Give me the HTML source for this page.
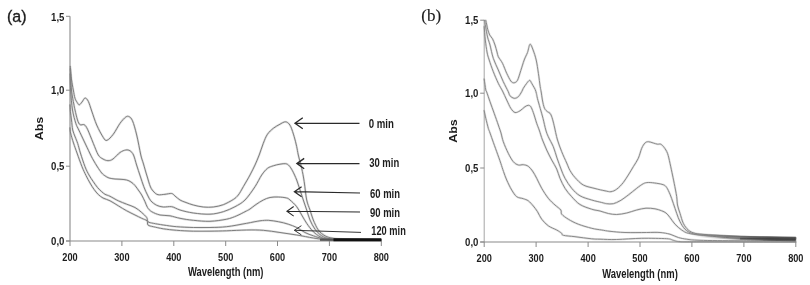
<!DOCTYPE html>
<html><head><meta charset="utf-8"><title>UV-Vis spectra</title>
<style>
html,body{margin:0;padding:0;background:#fff;}
body{width:810px;height:285px;overflow:hidden;}
svg{display:block;}
text{font-family:"Liberation Sans",sans-serif;fill:#1c1c1c;}
.b{font-weight:bold;}
.serif{font-family:"Liberation Serif",serif;}
.cv{fill:none;stroke:#7e7e7e;stroke-width:1;stroke-linejoin:round;stroke-linecap:round;}
.hl{fill:none;stroke:#7e7e7e;stroke-opacity:0.25;stroke-width:2.2;stroke-linejoin:round;stroke-linecap:round;}
.ax{fill:none;stroke:#8a8a8a;stroke-width:1;}
.ar{fill:none;stroke:#2a2a2a;}
</style></head><body>
<svg width="810" height="285" viewBox="0 0 810 285">
<rect width="810" height="285" fill="#fff"/>
<g>
<path class="ax" style="stroke-width:1.1" d="M70.0 16.3V241.0"/>
<path class="ax" style="stroke-width:1.2" d="M66.0 241.0H381.3"/>
<path class="ax" d="M66.0 16.3H70.0"/>
<text class="b" transform="translate(64.4 21.3) scale(0.830 1)" font-size="11.6" text-anchor="end">1,5</text>
<path class="ax" d="M66.0 90.2H70.0"/>
<text class="b" transform="translate(64.4 94.4) scale(0.830 1)" font-size="11.6" text-anchor="end">1,0</text>
<path class="ax" d="M66.0 166.2H70.0"/>
<text class="b" transform="translate(64.4 170.4) scale(0.830 1)" font-size="11.6" text-anchor="end">0,5</text>
<path class="ax" d="M66.0 241.0H70.0"/>
<text class="b" transform="translate(64.4 245.2) scale(0.830 1)" font-size="11.6" text-anchor="end">0,0</text>
<path class="ax" d="M70.0 241.0V246.0"/>
<text class="b" transform="translate(70.0 260.5) scale(0.820 1)" font-size="11.2" text-anchor="middle">200</text>
<path class="ax" d="M121.9 241.0V246.0"/>
<text class="b" transform="translate(121.9 260.5) scale(0.820 1)" font-size="11.2" text-anchor="middle">300</text>
<path class="ax" d="M173.8 241.0V246.0"/>
<text class="b" transform="translate(173.8 260.5) scale(0.820 1)" font-size="11.2" text-anchor="middle">400</text>
<path class="ax" d="M225.7 241.0V246.0"/>
<text class="b" transform="translate(225.7 260.5) scale(0.820 1)" font-size="11.2" text-anchor="middle">500</text>
<path class="ax" d="M277.5 241.0V246.0"/>
<text class="b" transform="translate(277.5 260.5) scale(0.820 1)" font-size="11.2" text-anchor="middle">600</text>
<path class="ax" d="M329.4 241.0V246.0"/>
<text class="b" transform="translate(329.4 260.5) scale(0.820 1)" font-size="11.2" text-anchor="middle">700</text>
<path class="ax" d="M381.3 241.0V246.0"/>
<text class="b" transform="translate(381.3 260.5) scale(0.820 1)" font-size="11.2" text-anchor="middle">800</text>
<text class="b" transform="translate(225.7 276.0) scale(0.726 1)" font-size="13" text-anchor="middle">Wavelength (nm)</text>
<text class="b" transform="translate(43.3 128.5) rotate(-90) scale(1.250 1)" font-size="10" text-anchor="middle">Abs</text>
<text class="" transform="translate(7.0 21.6) scale(0.970 1)" font-size="16.5" text-anchor="start" stroke="#1c1c1c" stroke-width="0.35">(a)</text>
<path class="hl" d="M70.3 66.5C70.4 67.7 70.7 71.2 70.9 73.5C71.1 75.8 71.2 77.2 71.6 80.0C72.0 82.8 72.7 87.0 73.3 90.0C73.9 93.0 74.3 96.2 75.0 98.3C75.7 100.4 76.5 101.4 77.2 102.5C77.9 103.6 78.5 104.9 79.3 104.8C80.1 104.7 81.0 103.1 82.0 102.0C83.0 100.9 84.0 98.1 85.0 98.0C86.0 97.9 87.2 99.1 88.3 101.3C89.4 103.5 90.3 107.0 91.7 111.0C93.1 115.0 94.8 120.6 96.7 125.0C98.6 129.4 101.6 134.9 103.3 137.5C105.0 140.1 105.3 140.9 107.0 140.3C108.7 139.8 111.1 137.0 113.3 134.2C115.5 131.4 117.9 126.2 120.0 123.3C122.1 120.4 124.3 118.1 125.8 117.0C127.3 115.9 128.1 116.1 129.2 116.7C130.3 117.3 131.2 117.8 132.5 120.8C133.8 123.8 135.3 129.3 136.7 135.0C138.1 140.7 139.7 150.2 140.8 155.0C141.9 159.8 142.5 160.5 143.5 164.0C144.5 167.5 145.8 172.2 147.0 176.0C148.2 179.8 149.3 184.3 150.5 187.0C151.7 189.7 152.8 190.7 154.0 192.0C155.2 193.3 156.2 194.3 158.0 194.7C159.8 195.1 162.7 194.5 165.0 194.3C167.3 194.1 170.0 193.2 171.7 193.5C173.4 193.8 173.6 194.9 175.0 196.0C176.4 197.1 178.2 198.9 180.0 200.0C181.8 201.1 183.8 201.7 186.0 202.5C188.2 203.3 190.4 204.2 193.3 205.0C196.2 205.8 200.0 206.7 203.3 207.0C206.6 207.3 210.0 207.4 213.3 207.0C216.6 206.6 220.0 205.9 223.3 204.7C226.6 203.4 230.8 201.1 233.3 199.5C235.8 197.9 236.6 197.1 238.3 195.0C240.0 192.9 241.4 190.0 243.3 186.7C245.2 183.4 248.1 178.6 250.0 175.0C251.9 171.4 253.5 168.3 255.0 165.0C256.5 161.7 257.8 158.6 259.2 155.0C260.6 151.4 261.9 146.8 263.3 143.3C264.7 139.8 265.8 136.7 267.5 134.2C269.2 131.7 271.2 130.0 273.3 128.3C275.4 126.6 278.2 125.2 280.0 124.2C281.8 123.2 282.9 122.3 284.2 122.0C285.4 121.7 286.4 121.7 287.5 122.5C288.6 123.3 289.7 124.3 290.8 126.7C291.9 129.1 293.2 133.4 294.2 136.7C295.2 140.0 296.0 143.6 296.7 146.7C297.4 149.8 297.5 151.4 298.3 155.0C299.1 158.6 300.7 163.9 301.7 168.3C302.7 172.8 303.4 176.4 304.2 181.7C305.0 187.0 305.7 195.3 306.7 200.0C307.7 204.7 308.9 206.7 310.0 210.0C311.1 213.3 311.9 216.7 313.3 220.0C314.7 223.3 316.4 227.4 318.3 230.0C320.2 232.6 322.5 234.4 325.0 235.8C327.5 237.2 330.0 237.8 333.3 238.3C336.6 238.8 337.1 238.8 345.0 239.0C352.9 239.2 375.0 239.4 381.0 239.5"/>
<path class="cv" d="M70.3 66.5C70.4 67.7 70.7 71.2 70.9 73.5C71.1 75.8 71.2 77.2 71.6 80.0C72.0 82.8 72.7 87.0 73.3 90.0C73.9 93.0 74.3 96.2 75.0 98.3C75.7 100.4 76.5 101.4 77.2 102.5C77.9 103.6 78.5 104.9 79.3 104.8C80.1 104.7 81.0 103.1 82.0 102.0C83.0 100.9 84.0 98.1 85.0 98.0C86.0 97.9 87.2 99.1 88.3 101.3C89.4 103.5 90.3 107.0 91.7 111.0C93.1 115.0 94.8 120.6 96.7 125.0C98.6 129.4 101.6 134.9 103.3 137.5C105.0 140.1 105.3 140.9 107.0 140.3C108.7 139.8 111.1 137.0 113.3 134.2C115.5 131.4 117.9 126.2 120.0 123.3C122.1 120.4 124.3 118.1 125.8 117.0C127.3 115.9 128.1 116.1 129.2 116.7C130.3 117.3 131.2 117.8 132.5 120.8C133.8 123.8 135.3 129.3 136.7 135.0C138.1 140.7 139.7 150.2 140.8 155.0C141.9 159.8 142.5 160.5 143.5 164.0C144.5 167.5 145.8 172.2 147.0 176.0C148.2 179.8 149.3 184.3 150.5 187.0C151.7 189.7 152.8 190.7 154.0 192.0C155.2 193.3 156.2 194.3 158.0 194.7C159.8 195.1 162.7 194.5 165.0 194.3C167.3 194.1 170.0 193.2 171.7 193.5C173.4 193.8 173.6 194.9 175.0 196.0C176.4 197.1 178.2 198.9 180.0 200.0C181.8 201.1 183.8 201.7 186.0 202.5C188.2 203.3 190.4 204.2 193.3 205.0C196.2 205.8 200.0 206.7 203.3 207.0C206.6 207.3 210.0 207.4 213.3 207.0C216.6 206.6 220.0 205.9 223.3 204.7C226.6 203.4 230.8 201.1 233.3 199.5C235.8 197.9 236.6 197.1 238.3 195.0C240.0 192.9 241.4 190.0 243.3 186.7C245.2 183.4 248.1 178.6 250.0 175.0C251.9 171.4 253.5 168.3 255.0 165.0C256.5 161.7 257.8 158.6 259.2 155.0C260.6 151.4 261.9 146.8 263.3 143.3C264.7 139.8 265.8 136.7 267.5 134.2C269.2 131.7 271.2 130.0 273.3 128.3C275.4 126.6 278.2 125.2 280.0 124.2C281.8 123.2 282.9 122.3 284.2 122.0C285.4 121.7 286.4 121.7 287.5 122.5C288.6 123.3 289.7 124.3 290.8 126.7C291.9 129.1 293.2 133.4 294.2 136.7C295.2 140.0 296.0 143.6 296.7 146.7C297.4 149.8 297.5 151.4 298.3 155.0C299.1 158.6 300.7 163.9 301.7 168.3C302.7 172.8 303.4 176.4 304.2 181.7C305.0 187.0 305.7 195.3 306.7 200.0C307.7 204.7 308.9 206.7 310.0 210.0C311.1 213.3 311.9 216.7 313.3 220.0C314.7 223.3 316.4 227.4 318.3 230.0C320.2 232.6 322.5 234.4 325.0 235.8C327.5 237.2 330.0 237.8 333.3 238.3C336.6 238.8 337.1 238.8 345.0 239.0C352.9 239.2 375.0 239.4 381.0 239.5"/>
<path class="hl" d="M70.3 69.0C70.4 71.2 70.7 78.2 70.9 82.0C71.1 85.8 71.2 88.3 71.7 92.0C72.2 95.7 73.2 101.0 73.8 104.0C74.3 107.0 74.4 107.3 75.0 110.0C75.6 112.7 76.7 117.5 77.5 120.0C78.3 122.5 78.9 123.9 80.0 124.7C81.1 125.5 83.0 124.0 84.2 124.7C85.5 125.5 86.0 126.1 87.5 129.2C89.0 132.3 91.5 139.0 93.3 143.3C95.1 147.6 96.7 152.4 98.3 155.0C99.9 157.6 101.4 158.1 103.0 159.0C104.6 159.9 106.3 160.7 108.0 160.7C109.7 160.7 111.0 160.4 113.0 159.0C115.0 157.6 117.9 154.0 120.0 152.5C122.1 151.0 124.1 150.3 125.8 150.0C127.5 149.7 128.7 150.0 130.0 150.8C131.3 151.6 132.4 152.6 133.5 155.0C134.6 157.4 135.5 161.5 136.6 165.0C137.7 168.5 139.0 172.4 140.2 176.0C141.4 179.6 142.6 183.5 143.8 186.7C145.0 189.9 146.3 192.7 147.5 195.0C148.7 197.3 149.3 199.1 150.8 200.8C152.3 202.5 154.6 204.3 156.7 205.3C158.8 206.3 160.8 206.8 163.3 207.0C165.8 207.2 168.9 206.2 171.7 206.7C174.5 207.2 176.4 208.9 180.0 210.0C183.6 211.1 188.3 212.3 193.3 213.0C198.3 213.7 205.0 214.4 210.0 214.2C215.0 214.0 219.1 212.9 223.3 211.7C227.5 210.4 231.4 208.6 235.0 206.7C238.6 204.8 241.7 203.3 245.0 200.0C248.3 196.7 252.2 190.9 255.0 186.7C257.8 182.5 259.6 178.1 261.7 175.0C263.8 171.9 265.6 169.8 267.5 168.3C269.4 166.8 271.2 166.5 273.3 165.8C275.4 165.1 277.9 164.5 280.0 164.2C282.1 163.8 284.3 163.4 285.8 163.7C287.3 164.0 288.1 164.6 289.2 165.8C290.3 167.0 291.2 168.4 292.5 170.8C293.8 173.2 295.4 176.8 296.7 180.0C297.9 183.2 298.9 186.7 300.0 190.0C301.1 193.3 302.2 196.7 303.3 200.0C304.4 203.3 305.6 206.7 306.7 210.0C307.8 213.3 308.6 216.8 310.0 220.0C311.4 223.2 313.1 226.6 315.0 229.2C316.9 231.8 319.2 234.2 321.7 235.8C324.2 237.4 326.1 238.1 330.0 238.7C333.9 239.3 336.5 239.1 345.0 239.3C353.5 239.5 375.0 239.6 381.0 239.7"/>
<path class="cv" d="M70.3 69.0C70.4 71.2 70.7 78.2 70.9 82.0C71.1 85.8 71.2 88.3 71.7 92.0C72.2 95.7 73.2 101.0 73.8 104.0C74.3 107.0 74.4 107.3 75.0 110.0C75.6 112.7 76.7 117.5 77.5 120.0C78.3 122.5 78.9 123.9 80.0 124.7C81.1 125.5 83.0 124.0 84.2 124.7C85.5 125.5 86.0 126.1 87.5 129.2C89.0 132.3 91.5 139.0 93.3 143.3C95.1 147.6 96.7 152.4 98.3 155.0C99.9 157.6 101.4 158.1 103.0 159.0C104.6 159.9 106.3 160.7 108.0 160.7C109.7 160.7 111.0 160.4 113.0 159.0C115.0 157.6 117.9 154.0 120.0 152.5C122.1 151.0 124.1 150.3 125.8 150.0C127.5 149.7 128.7 150.0 130.0 150.8C131.3 151.6 132.4 152.6 133.5 155.0C134.6 157.4 135.5 161.5 136.6 165.0C137.7 168.5 139.0 172.4 140.2 176.0C141.4 179.6 142.6 183.5 143.8 186.7C145.0 189.9 146.3 192.7 147.5 195.0C148.7 197.3 149.3 199.1 150.8 200.8C152.3 202.5 154.6 204.3 156.7 205.3C158.8 206.3 160.8 206.8 163.3 207.0C165.8 207.2 168.9 206.2 171.7 206.7C174.5 207.2 176.4 208.9 180.0 210.0C183.6 211.1 188.3 212.3 193.3 213.0C198.3 213.7 205.0 214.4 210.0 214.2C215.0 214.0 219.1 212.9 223.3 211.7C227.5 210.4 231.4 208.6 235.0 206.7C238.6 204.8 241.7 203.3 245.0 200.0C248.3 196.7 252.2 190.9 255.0 186.7C257.8 182.5 259.6 178.1 261.7 175.0C263.8 171.9 265.6 169.8 267.5 168.3C269.4 166.8 271.2 166.5 273.3 165.8C275.4 165.1 277.9 164.5 280.0 164.2C282.1 163.8 284.3 163.4 285.8 163.7C287.3 164.0 288.1 164.6 289.2 165.8C290.3 167.0 291.2 168.4 292.5 170.8C293.8 173.2 295.4 176.8 296.7 180.0C297.9 183.2 298.9 186.7 300.0 190.0C301.1 193.3 302.2 196.7 303.3 200.0C304.4 203.3 305.6 206.7 306.7 210.0C307.8 213.3 308.6 216.8 310.0 220.0C311.4 223.2 313.1 226.6 315.0 229.2C316.9 231.8 319.2 234.2 321.7 235.8C324.2 237.4 326.1 238.1 330.0 238.7C333.9 239.3 336.5 239.1 345.0 239.3C353.5 239.5 375.0 239.6 381.0 239.7"/>
<path class="hl" d="M70.2 74.0C70.3 76.7 70.2 84.0 70.6 90.0C71.0 96.0 71.6 104.5 72.5 110.0C73.4 115.5 74.8 120.0 75.8 123.3C76.8 126.6 77.4 127.0 78.8 130.0C80.2 132.9 82.2 137.2 84.0 141.0C85.8 144.8 88.2 149.8 89.7 153.0C91.2 156.2 92.0 157.7 93.3 160.0C94.6 162.3 96.1 164.8 97.5 167.0C98.9 169.2 100.5 171.5 101.7 173.0C103.0 174.5 103.8 175.0 105.0 175.8C106.2 176.6 107.3 177.5 109.0 178.0C110.7 178.5 113.0 178.8 115.0 179.0C117.0 179.2 119.0 179.1 121.0 179.3C123.0 179.5 125.0 179.6 126.7 180.0C128.4 180.4 129.6 181.1 131.0 182.0C132.4 182.9 133.7 184.0 135.0 185.5C136.3 187.0 137.9 189.4 139.0 191.0C140.1 192.6 140.7 193.2 141.7 195.0C142.7 196.8 144.0 199.6 145.0 201.7C146.0 203.8 146.4 205.8 147.5 207.5C148.6 209.2 149.6 210.4 151.7 211.7C153.8 212.9 156.9 214.3 160.0 215.0C163.1 215.7 166.7 215.2 170.0 215.8C173.3 216.4 176.1 217.6 180.0 218.3C183.9 219.1 188.3 219.8 193.3 220.3C198.3 220.8 204.4 221.5 210.0 221.3C215.6 221.1 222.2 220.1 226.7 219.2C231.1 218.3 233.6 217.1 236.7 215.8C239.8 214.6 242.8 212.8 245.0 211.7C247.2 210.6 248.2 210.2 250.0 209.0C251.8 207.8 253.8 206.0 256.0 204.5C258.2 203.0 261.0 201.2 263.3 200.0C265.6 198.8 267.5 198.0 270.0 197.5C272.5 197.0 275.5 196.9 278.3 197.0C281.1 197.1 284.8 197.5 286.7 198.0C288.6 198.5 288.3 198.6 290.0 200.0C291.7 201.4 294.8 204.2 296.7 206.7C298.6 209.2 300.0 212.2 301.7 215.0C303.4 217.8 304.8 220.5 306.7 223.3C308.6 226.1 311.1 229.5 313.3 231.7C315.5 233.9 317.8 235.4 320.0 236.7C322.2 237.9 323.4 238.7 326.7 239.2C330.0 239.7 330.9 239.6 340.0 239.7C349.1 239.8 374.2 239.9 381.0 240.0"/>
<path class="cv" d="M70.2 74.0C70.3 76.7 70.2 84.0 70.6 90.0C71.0 96.0 71.6 104.5 72.5 110.0C73.4 115.5 74.8 120.0 75.8 123.3C76.8 126.6 77.4 127.0 78.8 130.0C80.2 132.9 82.2 137.2 84.0 141.0C85.8 144.8 88.2 149.8 89.7 153.0C91.2 156.2 92.0 157.7 93.3 160.0C94.6 162.3 96.1 164.8 97.5 167.0C98.9 169.2 100.5 171.5 101.7 173.0C103.0 174.5 103.8 175.0 105.0 175.8C106.2 176.6 107.3 177.5 109.0 178.0C110.7 178.5 113.0 178.8 115.0 179.0C117.0 179.2 119.0 179.1 121.0 179.3C123.0 179.5 125.0 179.6 126.7 180.0C128.4 180.4 129.6 181.1 131.0 182.0C132.4 182.9 133.7 184.0 135.0 185.5C136.3 187.0 137.9 189.4 139.0 191.0C140.1 192.6 140.7 193.2 141.7 195.0C142.7 196.8 144.0 199.6 145.0 201.7C146.0 203.8 146.4 205.8 147.5 207.5C148.6 209.2 149.6 210.4 151.7 211.7C153.8 212.9 156.9 214.3 160.0 215.0C163.1 215.7 166.7 215.2 170.0 215.8C173.3 216.4 176.1 217.6 180.0 218.3C183.9 219.1 188.3 219.8 193.3 220.3C198.3 220.8 204.4 221.5 210.0 221.3C215.6 221.1 222.2 220.1 226.7 219.2C231.1 218.3 233.6 217.1 236.7 215.8C239.8 214.6 242.8 212.8 245.0 211.7C247.2 210.6 248.2 210.2 250.0 209.0C251.8 207.8 253.8 206.0 256.0 204.5C258.2 203.0 261.0 201.2 263.3 200.0C265.6 198.8 267.5 198.0 270.0 197.5C272.5 197.0 275.5 196.9 278.3 197.0C281.1 197.1 284.8 197.5 286.7 198.0C288.6 198.5 288.3 198.6 290.0 200.0C291.7 201.4 294.8 204.2 296.7 206.7C298.6 209.2 300.0 212.2 301.7 215.0C303.4 217.8 304.8 220.5 306.7 223.3C308.6 226.1 311.1 229.5 313.3 231.7C315.5 233.9 317.8 235.4 320.0 236.7C322.2 237.9 323.4 238.7 326.7 239.2C330.0 239.7 330.9 239.6 340.0 239.7C349.1 239.8 374.2 239.9 381.0 240.0"/>
<path class="hl" d="M70.0 105.0C70.1 106.1 70.2 108.9 70.4 111.4C70.7 113.9 71.1 116.9 71.5 120.0C71.9 123.1 72.1 127.2 72.7 130.0C73.3 132.8 74.4 134.8 75.2 137.0C76.0 139.2 76.8 140.8 77.7 143.5C78.6 146.2 79.2 149.1 80.4 153.0C81.6 156.9 83.6 163.0 85.0 166.7C86.4 170.4 87.6 172.5 89.0 175.0C90.4 177.5 91.9 179.6 93.3 181.7C94.7 183.8 96.1 185.8 97.5 187.5C98.9 189.2 100.5 190.6 101.7 191.7C103.0 192.8 103.6 193.5 105.0 194.3C106.4 195.1 107.8 195.2 110.0 196.3C112.2 197.4 115.5 199.5 118.3 200.8C121.1 202.1 123.9 203.1 126.7 204.2C129.5 205.3 132.5 206.1 135.0 207.5C137.5 208.9 139.8 210.8 141.7 212.5C143.6 214.2 145.6 216.0 146.7 217.5C147.8 219.0 146.9 220.7 148.0 221.7C149.1 222.7 150.8 222.8 153.3 223.3C155.9 223.9 159.4 224.4 163.3 225.0C167.2 225.6 171.7 226.3 176.7 226.7C181.7 227.1 187.8 227.4 193.3 227.5C198.9 227.6 204.4 227.6 210.0 227.5C215.6 227.4 220.6 227.4 226.7 226.7C232.8 226.0 241.1 224.3 246.7 223.3C252.2 222.3 256.4 221.3 260.0 220.8C263.6 220.3 265.2 220.2 268.3 220.3C271.4 220.5 275.0 221.0 278.3 221.7C281.6 222.3 285.2 223.2 288.3 224.2C291.4 225.2 293.9 226.1 296.7 227.5C299.5 228.9 302.2 231.1 305.0 232.5C307.8 233.9 310.2 234.8 313.3 235.8C316.4 236.8 318.9 238.0 323.3 238.7C327.8 239.3 330.4 239.5 340.0 239.7C349.6 239.9 374.2 239.9 381.0 240.0"/>
<path class="cv" d="M70.0 105.0C70.1 106.1 70.2 108.9 70.4 111.4C70.7 113.9 71.1 116.9 71.5 120.0C71.9 123.1 72.1 127.2 72.7 130.0C73.3 132.8 74.4 134.8 75.2 137.0C76.0 139.2 76.8 140.8 77.7 143.5C78.6 146.2 79.2 149.1 80.4 153.0C81.6 156.9 83.6 163.0 85.0 166.7C86.4 170.4 87.6 172.5 89.0 175.0C90.4 177.5 91.9 179.6 93.3 181.7C94.7 183.8 96.1 185.8 97.5 187.5C98.9 189.2 100.5 190.6 101.7 191.7C103.0 192.8 103.6 193.5 105.0 194.3C106.4 195.1 107.8 195.2 110.0 196.3C112.2 197.4 115.5 199.5 118.3 200.8C121.1 202.1 123.9 203.1 126.7 204.2C129.5 205.3 132.5 206.1 135.0 207.5C137.5 208.9 139.8 210.8 141.7 212.5C143.6 214.2 145.6 216.0 146.7 217.5C147.8 219.0 146.9 220.7 148.0 221.7C149.1 222.7 150.8 222.8 153.3 223.3C155.9 223.9 159.4 224.4 163.3 225.0C167.2 225.6 171.7 226.3 176.7 226.7C181.7 227.1 187.8 227.4 193.3 227.5C198.9 227.6 204.4 227.6 210.0 227.5C215.6 227.4 220.6 227.4 226.7 226.7C232.8 226.0 241.1 224.3 246.7 223.3C252.2 222.3 256.4 221.3 260.0 220.8C263.6 220.3 265.2 220.2 268.3 220.3C271.4 220.5 275.0 221.0 278.3 221.7C281.6 222.3 285.2 223.2 288.3 224.2C291.4 225.2 293.9 226.1 296.7 227.5C299.5 228.9 302.2 231.1 305.0 232.5C307.8 233.9 310.2 234.8 313.3 235.8C316.4 236.8 318.9 238.0 323.3 238.7C327.8 239.3 330.4 239.5 340.0 239.7C349.6 239.9 374.2 239.9 381.0 240.0"/>
<path class="hl" d="M70.0 128.0C70.1 128.8 70.0 130.5 70.6 133.0C71.2 135.5 72.4 139.7 73.5 143.0C74.6 146.3 75.6 149.1 77.0 153.0C78.4 156.9 80.5 162.9 82.0 166.7C83.5 170.4 84.7 172.8 86.0 175.5C87.3 178.2 88.7 180.7 90.0 183.0C91.3 185.3 92.6 187.4 94.0 189.3C95.4 191.2 96.8 193.1 98.3 194.5C99.8 195.9 101.0 196.9 103.0 198.0C105.0 199.1 107.5 199.5 110.0 200.8C112.5 202.1 115.5 204.1 118.3 205.8C121.1 207.5 123.9 209.3 126.7 210.8C129.5 212.3 132.5 213.8 135.0 215.0C137.5 216.2 139.7 217.3 141.7 218.3C143.7 219.3 145.9 219.7 147.0 220.8C148.1 221.9 146.9 224.0 148.0 225.0C149.1 226.0 150.8 226.1 153.3 226.7C155.9 227.3 159.4 228.2 163.3 228.8C167.2 229.4 171.7 229.9 176.7 230.3C181.7 230.7 187.8 231.0 193.3 231.2C198.9 231.3 204.4 231.3 210.0 231.2C215.6 231.1 220.6 231.0 226.7 230.8C232.8 230.6 240.6 230.1 246.7 230.0C252.8 229.9 257.8 229.9 263.3 230.3C268.9 230.7 274.4 231.7 280.0 232.5C285.6 233.3 291.1 234.1 296.7 235.0C302.2 235.9 308.9 237.3 313.3 238.0C317.7 238.7 318.9 239.0 323.3 239.3C327.8 239.6 330.4 239.8 340.0 240.0C349.6 240.2 374.2 240.2 381.0 240.3"/>
<path class="cv" d="M70.0 128.0C70.1 128.8 70.0 130.5 70.6 133.0C71.2 135.5 72.4 139.7 73.5 143.0C74.6 146.3 75.6 149.1 77.0 153.0C78.4 156.9 80.5 162.9 82.0 166.7C83.5 170.4 84.7 172.8 86.0 175.5C87.3 178.2 88.7 180.7 90.0 183.0C91.3 185.3 92.6 187.4 94.0 189.3C95.4 191.2 96.8 193.1 98.3 194.5C99.8 195.9 101.0 196.9 103.0 198.0C105.0 199.1 107.5 199.5 110.0 200.8C112.5 202.1 115.5 204.1 118.3 205.8C121.1 207.5 123.9 209.3 126.7 210.8C129.5 212.3 132.5 213.8 135.0 215.0C137.5 216.2 139.7 217.3 141.7 218.3C143.7 219.3 145.9 219.7 147.0 220.8C148.1 221.9 146.9 224.0 148.0 225.0C149.1 226.0 150.8 226.1 153.3 226.7C155.9 227.3 159.4 228.2 163.3 228.8C167.2 229.4 171.7 229.9 176.7 230.3C181.7 230.7 187.8 231.0 193.3 231.2C198.9 231.3 204.4 231.3 210.0 231.2C215.6 231.1 220.6 231.0 226.7 230.8C232.8 230.6 240.6 230.1 246.7 230.0C252.8 229.9 257.8 229.9 263.3 230.3C268.9 230.7 274.4 231.7 280.0 232.5C285.6 233.3 291.1 234.1 296.7 235.0C302.2 235.9 308.9 237.3 313.3 238.0C317.7 238.7 318.9 239.0 323.3 239.3C327.8 239.6 330.4 239.8 340.0 240.0C349.6 240.2 374.2 240.2 381.0 240.3"/>
<path class="ax" style="stroke:#9c9c9c;stroke-width:0.9" d="M484.2 20.2V242.0"/>
<path class="ax" style="stroke-width:1.2" d="M480.2 242.0H795.8"/>
<path class="ax" d="M480.2 20.2H484.2"/>
<text class="b" transform="translate(478.4 24.4) scale(0.830 1)" font-size="11.6" text-anchor="end">1,5</text>
<path class="ax" d="M480.2 93.2H484.2"/>
<text class="b" transform="translate(478.4 97.4) scale(0.830 1)" font-size="11.6" text-anchor="end">1,0</text>
<path class="ax" d="M480.2 168.0H484.2"/>
<text class="b" transform="translate(478.4 172.2) scale(0.830 1)" font-size="11.6" text-anchor="end">0,5</text>
<path class="ax" d="M480.2 242.0H484.2"/>
<text class="b" transform="translate(478.4 246.2) scale(0.830 1)" font-size="11.6" text-anchor="end">0,0</text>
<path class="ax" d="M484.2 242.0V247.0"/>
<text class="b" transform="translate(484.2 261.7) scale(0.820 1)" font-size="11.2" text-anchor="middle">200</text>
<path class="ax" d="M536.1 242.0V247.0"/>
<text class="b" transform="translate(536.1 261.7) scale(0.820 1)" font-size="11.2" text-anchor="middle">300</text>
<path class="ax" d="M588.1 242.0V247.0"/>
<text class="b" transform="translate(588.1 261.7) scale(0.820 1)" font-size="11.2" text-anchor="middle">400</text>
<path class="ax" d="M640.0 242.0V247.0"/>
<text class="b" transform="translate(640.0 261.7) scale(0.820 1)" font-size="11.2" text-anchor="middle">500</text>
<path class="ax" d="M691.9 242.0V247.0"/>
<text class="b" transform="translate(691.9 261.7) scale(0.820 1)" font-size="11.2" text-anchor="middle">600</text>
<path class="ax" d="M743.9 242.0V247.0"/>
<text class="b" transform="translate(743.9 261.7) scale(0.820 1)" font-size="11.2" text-anchor="middle">700</text>
<path class="ax" d="M795.8 242.0V247.0"/>
<text class="b" transform="translate(795.8 261.7) scale(0.820 1)" font-size="11.2" text-anchor="middle">800</text>
<text class="b" transform="translate(640.0 277.5) scale(0.726 1)" font-size="13" text-anchor="middle">Wavelength (nm)</text>
<text class="b" transform="translate(456.7 131.0) rotate(-90) scale(1.250 1)" font-size="10" text-anchor="middle">Abs</text>
<text class="serif" transform="translate(421.3 20.6) scale(1.000 1)" font-size="17" text-anchor="start" stroke="#1c1c1c" stroke-width="0.15">(b)</text>
<path class="hl" style="stroke:#8a8a8a" d="M485.8 20.4C486.0 21.2 486.5 23.5 486.8 25.0C487.1 26.5 487.2 27.6 487.7 29.3C488.2 31.0 488.9 33.4 489.7 35.0C490.5 36.6 491.6 37.1 492.5 38.8C493.4 40.5 494.2 42.8 495.0 45.0C495.8 47.2 496.4 50.0 497.0 52.0C497.6 54.0 497.4 54.8 498.3 56.7C499.2 58.6 501.1 60.5 502.5 63.3C503.9 66.1 505.3 70.3 506.7 73.3C508.1 76.2 509.6 79.4 510.8 81.0C512.0 82.6 512.9 82.9 514.0 82.8C515.1 82.7 516.4 82.3 517.5 80.3C518.6 78.2 519.7 73.9 520.8 70.5C521.9 67.1 523.1 63.0 524.2 60.0C525.3 57.0 526.5 55.1 527.5 52.5C528.5 49.9 529.1 44.6 530.0 44.2C530.9 43.8 532.1 47.4 533.1 50.0C534.1 52.6 535.3 56.1 536.2 60.0C537.1 63.9 537.7 68.8 538.4 73.3C539.1 77.8 539.7 83.6 540.2 86.7C540.7 89.8 540.8 89.8 541.2 92.0C541.6 94.2 541.9 97.3 542.4 100.0C542.9 102.7 543.6 106.3 544.5 108.3C545.4 110.2 546.6 110.9 547.5 111.7C548.4 112.5 549.2 112.3 550.0 113.3C550.8 114.3 551.3 115.4 552.0 117.5C552.7 119.6 553.3 122.0 554.2 125.8C555.1 129.6 556.2 135.7 557.5 140.0C558.8 144.3 560.2 147.9 561.7 151.7C563.2 155.5 565.3 159.9 566.7 163.0C568.1 166.1 568.6 168.1 570.0 170.5C571.4 172.9 572.8 175.1 575.0 177.5C577.2 179.9 580.0 183.2 583.3 185.0C586.6 186.8 591.4 187.5 595.0 188.5C598.6 189.5 602.3 190.3 605.0 190.8C607.7 191.3 609.0 192.0 611.0 191.7C613.0 191.4 614.7 190.7 616.7 189.2C618.8 187.7 621.4 184.9 623.3 182.5C625.2 180.1 626.6 177.6 628.3 175.0C630.0 172.4 631.6 169.5 633.3 166.7C635.0 163.9 636.9 161.4 638.3 158.3C639.7 155.2 640.6 150.9 641.7 148.3C642.8 145.8 643.9 144.1 645.0 143.0C646.1 141.9 646.9 141.7 648.3 141.7C649.7 141.7 651.8 142.6 653.3 143.0C654.8 143.4 656.2 144.0 657.5 144.2C658.8 144.4 659.7 143.6 660.8 144.2C661.9 144.8 663.1 146.0 664.2 147.5C665.3 149.0 666.5 150.7 667.5 153.3C668.5 155.9 669.2 159.7 670.0 163.3C670.8 166.9 671.8 171.7 672.5 175.0C673.2 178.3 673.5 179.7 674.2 183.3C674.9 186.9 676.2 193.1 676.7 196.7C677.2 200.3 677.0 202.2 677.5 205.0C678.0 207.8 679.0 210.2 680.0 213.3C681.0 216.4 681.9 220.5 683.3 223.3C684.7 226.1 686.3 228.3 688.3 230.0C690.2 231.7 692.2 232.6 695.0 233.3C697.8 234.1 700.8 234.1 705.0 234.5C709.2 234.9 715.0 235.2 720.0 235.5C725.0 235.8 728.3 236.1 735.0 236.3C741.7 236.6 749.9 236.8 760.0 237.0C770.1 237.2 789.8 237.7 795.8 237.8"/>
<path class="cv" style="stroke:#8a8a8a" d="M485.8 20.4C486.0 21.2 486.5 23.5 486.8 25.0C487.1 26.5 487.2 27.6 487.7 29.3C488.2 31.0 488.9 33.4 489.7 35.0C490.5 36.6 491.6 37.1 492.5 38.8C493.4 40.5 494.2 42.8 495.0 45.0C495.8 47.2 496.4 50.0 497.0 52.0C497.6 54.0 497.4 54.8 498.3 56.7C499.2 58.6 501.1 60.5 502.5 63.3C503.9 66.1 505.3 70.3 506.7 73.3C508.1 76.2 509.6 79.4 510.8 81.0C512.0 82.6 512.9 82.9 514.0 82.8C515.1 82.7 516.4 82.3 517.5 80.3C518.6 78.2 519.7 73.9 520.8 70.5C521.9 67.1 523.1 63.0 524.2 60.0C525.3 57.0 526.5 55.1 527.5 52.5C528.5 49.9 529.1 44.6 530.0 44.2C530.9 43.8 532.1 47.4 533.1 50.0C534.1 52.6 535.3 56.1 536.2 60.0C537.1 63.9 537.7 68.8 538.4 73.3C539.1 77.8 539.7 83.6 540.2 86.7C540.7 89.8 540.8 89.8 541.2 92.0C541.6 94.2 541.9 97.3 542.4 100.0C542.9 102.7 543.6 106.3 544.5 108.3C545.4 110.2 546.6 110.9 547.5 111.7C548.4 112.5 549.2 112.3 550.0 113.3C550.8 114.3 551.3 115.4 552.0 117.5C552.7 119.6 553.3 122.0 554.2 125.8C555.1 129.6 556.2 135.7 557.5 140.0C558.8 144.3 560.2 147.9 561.7 151.7C563.2 155.5 565.3 159.9 566.7 163.0C568.1 166.1 568.6 168.1 570.0 170.5C571.4 172.9 572.8 175.1 575.0 177.5C577.2 179.9 580.0 183.2 583.3 185.0C586.6 186.8 591.4 187.5 595.0 188.5C598.6 189.5 602.3 190.3 605.0 190.8C607.7 191.3 609.0 192.0 611.0 191.7C613.0 191.4 614.7 190.7 616.7 189.2C618.8 187.7 621.4 184.9 623.3 182.5C625.2 180.1 626.6 177.6 628.3 175.0C630.0 172.4 631.6 169.5 633.3 166.7C635.0 163.9 636.9 161.4 638.3 158.3C639.7 155.2 640.6 150.9 641.7 148.3C642.8 145.8 643.9 144.1 645.0 143.0C646.1 141.9 646.9 141.7 648.3 141.7C649.7 141.7 651.8 142.6 653.3 143.0C654.8 143.4 656.2 144.0 657.5 144.2C658.8 144.4 659.7 143.6 660.8 144.2C661.9 144.8 663.1 146.0 664.2 147.5C665.3 149.0 666.5 150.7 667.5 153.3C668.5 155.9 669.2 159.7 670.0 163.3C670.8 166.9 671.8 171.7 672.5 175.0C673.2 178.3 673.5 179.7 674.2 183.3C674.9 186.9 676.2 193.1 676.7 196.7C677.2 200.3 677.0 202.2 677.5 205.0C678.0 207.8 679.0 210.2 680.0 213.3C681.0 216.4 681.9 220.5 683.3 223.3C684.7 226.1 686.3 228.3 688.3 230.0C690.2 231.7 692.2 232.6 695.0 233.3C697.8 234.1 700.8 234.1 705.0 234.5C709.2 234.9 715.0 235.2 720.0 235.5C725.0 235.8 728.3 236.1 735.0 236.3C741.7 236.6 749.9 236.8 760.0 237.0C770.1 237.2 789.8 237.7 795.8 237.8"/>
<path class="hl" style="stroke:#8a8a8a" d="M484.6 20.4C484.8 21.3 485.2 24.1 485.5 26.0C485.8 27.9 486.1 29.8 486.5 31.8C486.9 33.8 487.2 35.8 487.8 38.0C488.4 40.2 489.1 41.6 490.0 45.0C490.9 48.4 491.9 54.1 493.3 58.3C494.7 62.5 496.6 66.1 498.3 70.0C500.0 73.9 501.6 78.1 503.3 81.7C505.0 85.3 507.2 89.4 508.3 91.7C509.4 94.0 509.0 94.7 510.0 95.8C511.0 96.9 512.8 98.1 514.2 98.3C515.6 98.5 517.0 97.8 518.3 96.7C519.5 95.6 520.9 93.1 521.7 91.7C522.5 90.3 522.5 89.7 523.3 88.3C524.1 86.9 525.7 84.6 526.7 83.3C527.8 82.0 528.8 80.4 529.6 80.3C530.4 80.2 530.8 81.8 531.3 82.6C531.8 83.4 532.1 84.0 532.8 85.2C533.4 86.4 534.6 88.1 535.2 89.5C535.8 90.9 536.0 92.0 536.4 93.5C536.8 95.0 536.8 95.8 537.4 98.3C538.0 100.8 539.3 105.0 540.2 108.3C541.1 111.6 542.1 114.7 543.0 118.3C543.9 121.9 544.9 126.9 545.8 130.0C546.7 133.1 547.0 133.9 548.3 136.7C549.5 139.5 551.8 143.1 553.3 146.7C554.8 150.2 555.7 154.3 557.0 158.0C558.3 161.7 559.7 165.6 561.0 169.0C562.3 172.4 563.2 175.1 565.0 178.3C566.8 181.5 569.2 185.4 571.7 188.3C574.2 191.2 576.7 193.9 580.0 195.8C583.3 197.8 588.1 198.9 591.7 200.0C595.3 201.1 599.2 201.9 601.7 202.5C604.2 203.1 604.8 203.5 606.7 203.7C608.6 203.9 611.1 204.2 613.3 203.7C615.5 203.2 617.5 202.2 620.0 200.8C622.5 199.4 625.5 197.1 628.3 195.0C631.1 192.9 634.2 190.2 636.7 188.3C639.2 186.4 641.4 184.7 643.3 183.7C645.2 182.7 646.1 182.6 648.3 182.5C650.5 182.4 654.2 182.9 656.7 183.3C659.2 183.7 661.6 184.0 663.3 184.7C665.0 185.4 665.6 185.9 666.7 187.5C667.8 189.1 668.9 191.6 670.0 194.2C671.1 196.8 672.2 200.1 673.3 203.3C674.4 206.5 675.6 210.2 676.7 213.3C677.8 216.4 678.6 219.0 680.0 221.7C681.4 224.3 683.0 227.3 685.0 229.2C687.0 231.1 689.2 232.4 691.7 233.3C694.2 234.2 695.3 234.4 700.0 234.8C704.7 235.2 710.0 235.6 720.0 236.0C730.0 236.4 747.4 237.1 760.0 237.5C772.6 237.9 789.8 238.2 795.8 238.3"/>
<path class="cv" style="stroke:#8a8a8a" d="M484.6 20.4C484.8 21.3 485.2 24.1 485.5 26.0C485.8 27.9 486.1 29.8 486.5 31.8C486.9 33.8 487.2 35.8 487.8 38.0C488.4 40.2 489.1 41.6 490.0 45.0C490.9 48.4 491.9 54.1 493.3 58.3C494.7 62.5 496.6 66.1 498.3 70.0C500.0 73.9 501.6 78.1 503.3 81.7C505.0 85.3 507.2 89.4 508.3 91.7C509.4 94.0 509.0 94.7 510.0 95.8C511.0 96.9 512.8 98.1 514.2 98.3C515.6 98.5 517.0 97.8 518.3 96.7C519.5 95.6 520.9 93.1 521.7 91.7C522.5 90.3 522.5 89.7 523.3 88.3C524.1 86.9 525.7 84.6 526.7 83.3C527.8 82.0 528.8 80.4 529.6 80.3C530.4 80.2 530.8 81.8 531.3 82.6C531.8 83.4 532.1 84.0 532.8 85.2C533.4 86.4 534.6 88.1 535.2 89.5C535.8 90.9 536.0 92.0 536.4 93.5C536.8 95.0 536.8 95.8 537.4 98.3C538.0 100.8 539.3 105.0 540.2 108.3C541.1 111.6 542.1 114.7 543.0 118.3C543.9 121.9 544.9 126.9 545.8 130.0C546.7 133.1 547.0 133.9 548.3 136.7C549.5 139.5 551.8 143.1 553.3 146.7C554.8 150.2 555.7 154.3 557.0 158.0C558.3 161.7 559.7 165.6 561.0 169.0C562.3 172.4 563.2 175.1 565.0 178.3C566.8 181.5 569.2 185.4 571.7 188.3C574.2 191.2 576.7 193.9 580.0 195.8C583.3 197.8 588.1 198.9 591.7 200.0C595.3 201.1 599.2 201.9 601.7 202.5C604.2 203.1 604.8 203.5 606.7 203.7C608.6 203.9 611.1 204.2 613.3 203.7C615.5 203.2 617.5 202.2 620.0 200.8C622.5 199.4 625.5 197.1 628.3 195.0C631.1 192.9 634.2 190.2 636.7 188.3C639.2 186.4 641.4 184.7 643.3 183.7C645.2 182.7 646.1 182.6 648.3 182.5C650.5 182.4 654.2 182.9 656.7 183.3C659.2 183.7 661.6 184.0 663.3 184.7C665.0 185.4 665.6 185.9 666.7 187.5C667.8 189.1 668.9 191.6 670.0 194.2C671.1 196.8 672.2 200.1 673.3 203.3C674.4 206.5 675.6 210.2 676.7 213.3C677.8 216.4 678.6 219.0 680.0 221.7C681.4 224.3 683.0 227.3 685.0 229.2C687.0 231.1 689.2 232.4 691.7 233.3C694.2 234.2 695.3 234.4 700.0 234.8C704.7 235.2 710.0 235.6 720.0 236.0C730.0 236.4 747.4 237.1 760.0 237.5C772.6 237.9 789.8 238.2 795.8 238.3"/>
<path class="hl" style="stroke:#8a8a8a" d="M484.2 26.7C484.4 28.9 484.8 35.8 485.3 40.0C485.8 44.2 486.4 48.7 487.0 52.0C487.6 55.3 488.1 56.7 489.2 60.0C490.2 63.3 491.8 67.8 493.3 71.7C494.8 75.6 496.8 80.1 498.3 83.3C499.8 86.5 501.1 88.2 502.5 91.0C503.9 93.8 505.3 97.1 506.7 100.0C508.1 102.9 509.4 106.2 510.8 108.3C512.2 110.4 513.5 112.1 515.0 112.5C516.5 112.9 518.3 111.8 520.0 110.8C521.7 109.8 523.6 107.6 525.0 106.7C526.4 105.8 527.3 105.3 528.3 105.3C529.3 105.3 530.0 105.5 530.8 106.7C531.6 107.9 532.3 109.7 533.3 112.5C534.3 115.3 535.7 120.4 536.7 123.3C537.7 126.2 538.2 127.2 539.2 130.0C540.2 132.8 541.2 136.7 542.5 140.0C543.8 143.3 545.2 146.7 546.7 150.0C548.2 153.3 550.0 156.8 551.7 160.0C553.4 163.2 555.3 165.9 556.7 169.0C558.1 172.1 558.6 175.1 560.0 178.3C561.4 181.5 563.0 185.2 565.0 188.3C567.0 191.4 569.2 194.0 571.7 196.7C574.2 199.4 576.7 202.4 580.0 204.5C583.3 206.6 588.4 208.1 591.7 209.2C595.0 210.3 597.2 210.3 600.0 211.0C602.8 211.7 605.5 212.9 608.3 213.5C611.1 214.1 613.6 214.6 616.7 214.5C619.8 214.4 623.4 213.8 626.7 213.0C630.0 212.2 633.5 210.8 636.7 210.0C639.9 209.2 643.0 208.4 646.0 208.2C649.0 208.0 652.4 208.4 655.0 208.8C657.6 209.2 659.9 210.1 661.7 210.8C663.5 211.5 664.6 211.9 666.0 213.0C667.4 214.1 668.5 215.6 670.0 217.5C671.5 219.4 673.0 222.1 675.0 224.2C677.0 226.3 679.5 228.5 681.7 230.0C683.9 231.5 685.2 232.5 688.3 233.3C691.3 234.1 695.3 234.4 700.0 235.0C704.7 235.6 710.9 236.2 716.7 236.7C722.5 237.2 727.8 237.7 735.0 238.0C742.2 238.3 749.9 238.5 760.0 238.7C770.1 238.9 789.8 239.2 795.8 239.3"/>
<path class="cv" style="stroke:#8a8a8a" d="M484.2 26.7C484.4 28.9 484.8 35.8 485.3 40.0C485.8 44.2 486.4 48.7 487.0 52.0C487.6 55.3 488.1 56.7 489.2 60.0C490.2 63.3 491.8 67.8 493.3 71.7C494.8 75.6 496.8 80.1 498.3 83.3C499.8 86.5 501.1 88.2 502.5 91.0C503.9 93.8 505.3 97.1 506.7 100.0C508.1 102.9 509.4 106.2 510.8 108.3C512.2 110.4 513.5 112.1 515.0 112.5C516.5 112.9 518.3 111.8 520.0 110.8C521.7 109.8 523.6 107.6 525.0 106.7C526.4 105.8 527.3 105.3 528.3 105.3C529.3 105.3 530.0 105.5 530.8 106.7C531.6 107.9 532.3 109.7 533.3 112.5C534.3 115.3 535.7 120.4 536.7 123.3C537.7 126.2 538.2 127.2 539.2 130.0C540.2 132.8 541.2 136.7 542.5 140.0C543.8 143.3 545.2 146.7 546.7 150.0C548.2 153.3 550.0 156.8 551.7 160.0C553.4 163.2 555.3 165.9 556.7 169.0C558.1 172.1 558.6 175.1 560.0 178.3C561.4 181.5 563.0 185.2 565.0 188.3C567.0 191.4 569.2 194.0 571.7 196.7C574.2 199.4 576.7 202.4 580.0 204.5C583.3 206.6 588.4 208.1 591.7 209.2C595.0 210.3 597.2 210.3 600.0 211.0C602.8 211.7 605.5 212.9 608.3 213.5C611.1 214.1 613.6 214.6 616.7 214.5C619.8 214.4 623.4 213.8 626.7 213.0C630.0 212.2 633.5 210.8 636.7 210.0C639.9 209.2 643.0 208.4 646.0 208.2C649.0 208.0 652.4 208.4 655.0 208.8C657.6 209.2 659.9 210.1 661.7 210.8C663.5 211.5 664.6 211.9 666.0 213.0C667.4 214.1 668.5 215.6 670.0 217.5C671.5 219.4 673.0 222.1 675.0 224.2C677.0 226.3 679.5 228.5 681.7 230.0C683.9 231.5 685.2 232.5 688.3 233.3C691.3 234.1 695.3 234.4 700.0 235.0C704.7 235.6 710.9 236.2 716.7 236.7C722.5 237.2 727.8 237.7 735.0 238.0C742.2 238.3 749.9 238.5 760.0 238.7C770.1 238.9 789.8 239.2 795.8 239.3"/>
<path class="hl" style="stroke:#8a8a8a" d="M484.2 79.2C484.5 81.0 485.4 87.9 485.8 90.0C486.2 92.1 486.0 90.0 486.7 92.0C487.4 94.0 488.8 98.2 490.0 101.7C491.2 105.2 492.8 109.4 494.2 113.3C495.6 117.2 497.2 121.7 498.3 125.0C499.4 128.3 500.2 130.2 501.0 133.0C501.8 135.8 502.1 138.3 503.3 141.7C504.5 145.1 506.6 150.0 508.3 153.3C510.0 156.6 511.6 159.8 513.3 161.7C515.0 163.6 516.6 164.5 518.3 165.0C520.0 165.5 521.6 164.5 523.3 164.7C525.0 164.9 526.8 165.2 528.3 166.3C529.8 167.4 531.1 169.0 532.5 171.0C533.9 173.0 535.2 175.4 536.7 178.3C538.2 181.2 539.8 185.0 541.7 188.3C543.6 191.6 546.1 195.5 548.3 198.3C550.5 201.1 552.9 203.1 555.0 205.0C557.1 206.9 559.7 208.5 560.8 210.0C561.9 211.5 560.5 212.7 561.7 214.2C563.0 215.7 565.5 217.5 568.3 219.2C571.1 220.9 574.4 222.7 578.3 224.2C582.2 225.7 587.8 227.3 591.7 228.3C595.6 229.3 598.7 229.5 601.7 230.0C604.8 230.5 606.1 230.9 610.0 231.3C613.9 231.7 618.9 232.3 625.0 232.5C631.1 232.7 640.9 232.5 646.7 232.5C652.5 232.5 656.1 232.2 660.0 232.5C663.9 232.8 667.0 233.4 670.0 234.2C673.0 235.0 675.5 236.7 678.3 237.5C681.1 238.3 683.1 238.7 686.7 239.2C690.3 239.7 691.1 240.0 700.0 240.3C708.9 240.6 724.0 240.7 740.0 240.8C756.0 240.9 786.5 241.0 795.8 241.0"/>
<path class="cv" style="stroke:#8a8a8a" d="M484.2 79.2C484.5 81.0 485.4 87.9 485.8 90.0C486.2 92.1 486.0 90.0 486.7 92.0C487.4 94.0 488.8 98.2 490.0 101.7C491.2 105.2 492.8 109.4 494.2 113.3C495.6 117.2 497.2 121.7 498.3 125.0C499.4 128.3 500.2 130.2 501.0 133.0C501.8 135.8 502.1 138.3 503.3 141.7C504.5 145.1 506.6 150.0 508.3 153.3C510.0 156.6 511.6 159.8 513.3 161.7C515.0 163.6 516.6 164.5 518.3 165.0C520.0 165.5 521.6 164.5 523.3 164.7C525.0 164.9 526.8 165.2 528.3 166.3C529.8 167.4 531.1 169.0 532.5 171.0C533.9 173.0 535.2 175.4 536.7 178.3C538.2 181.2 539.8 185.0 541.7 188.3C543.6 191.6 546.1 195.5 548.3 198.3C550.5 201.1 552.9 203.1 555.0 205.0C557.1 206.9 559.7 208.5 560.8 210.0C561.9 211.5 560.5 212.7 561.7 214.2C563.0 215.7 565.5 217.5 568.3 219.2C571.1 220.9 574.4 222.7 578.3 224.2C582.2 225.7 587.8 227.3 591.7 228.3C595.6 229.3 598.7 229.5 601.7 230.0C604.8 230.5 606.1 230.9 610.0 231.3C613.9 231.7 618.9 232.3 625.0 232.5C631.1 232.7 640.9 232.5 646.7 232.5C652.5 232.5 656.1 232.2 660.0 232.5C663.9 232.8 667.0 233.4 670.0 234.2C673.0 235.0 675.5 236.7 678.3 237.5C681.1 238.3 683.1 238.7 686.7 239.2C690.3 239.7 691.1 240.0 700.0 240.3C708.9 240.6 724.0 240.7 740.0 240.8C756.0 240.9 786.5 241.0 795.8 241.0"/>
<path class="hl" style="stroke:#8a8a8a" d="M484.2 110.8C484.5 112.0 485.1 115.4 485.8 118.3C486.5 121.2 487.7 126.1 488.3 128.3C488.9 130.5 488.8 129.6 489.5 131.5C490.2 133.4 491.3 136.6 492.5 140.0C493.7 143.4 495.3 147.8 496.7 151.7C498.1 155.6 499.7 160.0 500.8 163.3C501.9 166.6 502.5 168.7 503.5 171.5C504.5 174.3 505.3 176.9 506.7 180.0C508.1 183.1 510.0 187.2 511.7 190.0C513.4 192.8 514.8 195.2 516.7 196.7C518.6 198.1 521.4 198.0 523.3 198.7C525.2 199.4 526.6 199.6 528.3 200.8C530.0 202.0 531.8 204.2 533.3 206.0C534.8 207.8 536.1 209.5 537.5 211.7C538.9 213.9 539.9 216.8 541.7 219.2C543.5 221.5 545.8 224.0 548.3 225.8C550.8 227.6 554.5 228.8 556.7 230.0C558.9 231.2 560.6 232.4 561.7 233.3C562.8 234.2 561.1 234.7 563.3 235.3C565.5 235.9 570.3 236.1 575.0 236.7C579.7 237.3 587.5 238.4 591.7 238.8C595.9 239.2 595.8 239.1 600.0 239.2C604.2 239.3 609.8 239.7 616.7 239.5C623.7 239.3 633.4 238.4 641.7 238.3C650.0 238.2 661.4 238.4 666.7 238.7C672.0 239.0 671.1 239.8 673.3 240.3C675.5 240.8 675.5 241.4 680.0 241.7C684.5 241.9 680.7 241.8 700.0 241.8C719.3 241.9 779.8 242.0 795.8 242.0"/>
<path class="cv" style="stroke:#8a8a8a" d="M484.2 110.8C484.5 112.0 485.1 115.4 485.8 118.3C486.5 121.2 487.7 126.1 488.3 128.3C488.9 130.5 488.8 129.6 489.5 131.5C490.2 133.4 491.3 136.6 492.5 140.0C493.7 143.4 495.3 147.8 496.7 151.7C498.1 155.6 499.7 160.0 500.8 163.3C501.9 166.6 502.5 168.7 503.5 171.5C504.5 174.3 505.3 176.9 506.7 180.0C508.1 183.1 510.0 187.2 511.7 190.0C513.4 192.8 514.8 195.2 516.7 196.7C518.6 198.1 521.4 198.0 523.3 198.7C525.2 199.4 526.6 199.6 528.3 200.8C530.0 202.0 531.8 204.2 533.3 206.0C534.8 207.8 536.1 209.5 537.5 211.7C538.9 213.9 539.9 216.8 541.7 219.2C543.5 221.5 545.8 224.0 548.3 225.8C550.8 227.6 554.5 228.8 556.7 230.0C558.9 231.2 560.6 232.4 561.7 233.3C562.8 234.2 561.1 234.7 563.3 235.3C565.5 235.9 570.3 236.1 575.0 236.7C579.7 237.3 587.5 238.4 591.7 238.8C595.9 239.2 595.8 239.1 600.0 239.2C604.2 239.3 609.8 239.7 616.7 239.5C623.7 239.3 633.4 238.4 641.7 238.3C650.0 238.2 661.4 238.4 666.7 238.7C672.0 239.0 671.1 239.8 673.3 240.3C675.5 240.8 675.5 241.4 680.0 241.7C684.5 241.9 680.7 241.8 700.0 241.8C719.3 241.9 779.8 242.0 795.8 242.0"/>
<path d="M320 239.7H334" stroke="#555" stroke-width="2.2" fill="none"/>
<path d="M333.5 239.8H381.3" stroke="#111" stroke-width="3" fill="none"/>
<defs><linearGradient id="tg" gradientUnits="userSpaceOnUse" x1="692" y1="0" x2="770" y2="0"><stop offset="0" stop-color="#666" stop-opacity="0"/><stop offset="0.45" stop-color="#555" stop-opacity="0.4"/><stop offset="1" stop-color="#404040" stop-opacity="0.78"/></linearGradient></defs>
<path d="M692 234.4C712 236.6 735 237.9 760 238.4L795.8 239" stroke="url(#tg)" stroke-width="4.4" fill="none"/>
<path d="M740 238.6L795.8 239.2" stroke="#2a2a2a" stroke-opacity="0.45" stroke-width="1.6" fill="none"/>
<path class="ar" stroke-width="1.35" d="M359.5 123.3L295.0 123.3M302.8 117.8L295.0 123.3L302.8 128.8"/>
<text class="b" x="368.7" y="127.7" font-size="12.2" textLength="25.2" lengthAdjust="spacingAndGlyphs">0 min</text>
<path class="ar" stroke-width="1.35" d="M359.5 163.6L296.9 163.6M304.2 158.4L296.9 163.6L304.2 168.8"/>
<text class="b" x="369.2" y="167.0" font-size="12.2" textLength="30.0" lengthAdjust="spacingAndGlyphs">30 min</text>
<path class="ar" stroke-width="1.25" d="M360.0 193.0L294.4 191.7M301.6 186.7L294.4 191.7L301.6 196.7"/>
<text class="b" x="370.0" y="197.8" font-size="12.2" textLength="30.0" lengthAdjust="spacingAndGlyphs">60 min</text>
<path class="ar" stroke-width="1.05" d="M360.0 212.0L286.9 211.3M293.7 206.5L286.9 211.3L293.7 216.1"/>
<text class="b" x="370.0" y="216.6" font-size="12.2" textLength="30.0" lengthAdjust="spacingAndGlyphs">90 min</text>
<path class="ar" stroke-width="0.95" d="M361.0 232.4L294.4 230.3M301.4 225.7L294.4 230.3L301.4 234.9"/>
<text class="b" x="371.3" y="234.5" font-size="12.2" textLength="34.5" lengthAdjust="spacingAndGlyphs">120 min</text>
</g></svg></body></html>
